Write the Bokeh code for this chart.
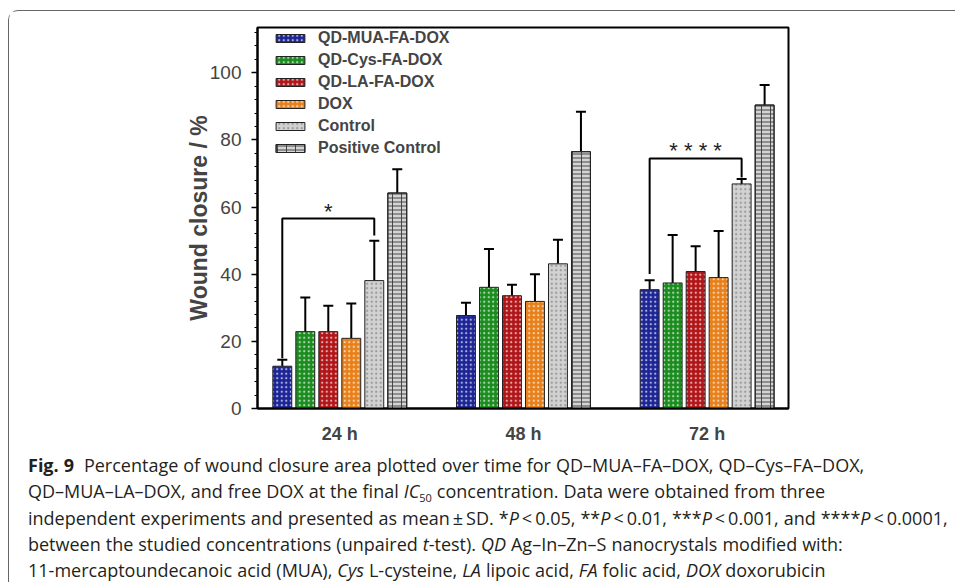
from bokeh.plotting import figure
from bokeh.models import (ColumnDataSource, Legend, LegendItem, FixedTicker, SingleIntervalTicker,
                          Whisker, TeeHead, Div, Range1d)
from bokeh.layouts import column
from bokeh.core.properties import value
from bokeh.embed import file_html
from bokeh.resources import INLINE

# ---------------- data ----------------
groups = ["24 h", "48 h", "72 h"]
series = ["QD-MUA-FA-DOX", "QD-Cys-FA-DOX", "QD-LA-FA-DOX", "DOX", "Control", "Positive Control"]
mua_mean = [12.6, 27.7, 35.4]
cys_mean = [22.9, 36.1, 37.4]
la_mean = [22.9, 33.6, 40.8]
dox_mean = [20.9, 31.9, 39.0]
ctrl_mean = [38.1, 43.1, 66.9]
pos_mean = [64.2, 76.5, 90.4]
mua_sd = [1.9, 3.8, 2.8]
cys_sd = [10.2, 11.4, 14.3]
la_sd = [7.7, 3.3, 7.5]
dox_sd = [10.4, 8.1, 13.9]
ctrl_sd = [11.9, 7.2, 1.5]
pos_sd = [7.1, 11.9, 6.0]
# significance brackets
sig_group = [0, 2]
sig_left_low = [15.0, 40.1]
sig_top = [56.6, 74.5]
sig_right_low = [51.5, 68.8]
sig_label = ["*", "* * * *"]

means = [mua_mean, cys_mean, la_mean, dox_mean, ctrl_mean, pos_mean]
sds = [mua_sd, cys_sd, la_sd, dox_sd, ctrl_sd, pos_sd]

# ---------------- styles ----------------
colors = ["#1c2496", "#1a8c1e", "#b01518", "#e8801a", "#d2d2d2", "#d4d4d4"]
hatch_cols = ["#ffffff", "#ffffff", "#ffffff", "#ffffff", "#7a7a7a", "#3a3a3a"]
FONT = "Liberation Sans"
pitch = 0.1252
bar_w = 0.103

p = figure(width=937, height=436, output_backend="svg", toolbar_location=None,
           x_range=Range1d(0.552, 3.443), y_range=Range1d(0, 113.5),
           min_border_left=248, min_border_right=158, min_border_top=16, min_border_bottom=39)
p.background_fill_color = "white"
p.border_fill_color = "white"
p.outline_line_color = "black"
p.outline_line_width = 2
p.xgrid.visible = False
p.ygrid.visible = False

legend_items = []
for i, name in enumerate(series):
    xs = [g + 1 + (i - 2.5) * pitch for g in range(len(groups))]
    tops = means[i]
    ups = [m + s for m, s in zip(means[i], sds[i])]
    src = ColumnDataSource(dict(x=xs, top=tops, up=ups))
    if i == 5:
        # brick-like texture: horizontal courses plus vertical joints
        r = p.vbar(x="x", top="top", width=bar_w, source=src, fill_color=colors[i],
                   line_color="#222222", line_width=1,
                   hatch_pattern="horizontal_line", hatch_color=hatch_cols[i],
                   hatch_scale=4, hatch_weight=1, hatch_alpha=0.9)
        r2 = p.vbar(x="x", top="top", width=bar_w, source=src, fill_alpha=0,
                    line_color="#222222", line_width=1,
                    hatch_pattern="vertical_line", hatch_color=hatch_cols[i],
                    hatch_scale=9, hatch_weight=1, hatch_alpha=0.9)
        rends = [r, r2]
    else:
        r = p.vbar(x="x", top="top", width=bar_w, source=src, fill_color=colors[i],
                   line_color="#222222", line_width=1,
                   hatch_pattern="dot", hatch_color=hatch_cols[i], hatch_scale=4.5,
                   hatch_alpha=0.65, hatch_weight=1)
        rends = [r]
    w = Whisker(base="x", lower="top", upper="up", source=src, dimension="height",
                line_color="black", line_width=2, lower_head=None,
                upper_head=TeeHead(size=10, line_color="black", line_width=2))
    p.add_layout(w)
    legend_items.append(LegendItem(label=name, renderers=rends))

# significance brackets
for k in range(len(sig_group)):
    g = sig_group[k] + 1
    xl = g + (0 - 2.5) * pitch
    xr = g + (4 - 2.5) * pitch
    p.line(x=[xl, xl, xr, xr], y=[sig_left_low[k], sig_top[k], sig_top[k], sig_right_low[k]],
           line_color="black", line_width=2)
    p.text(x=[(xl + xr) / 2], y=[sig_top[k] - 1.5], text=[sig_label[k]],
           text_font=value(FONT), text_font_size="22px", text_align="center",
           text_baseline="bottom", text_color="#222222")

legend = Legend(items=legend_items, location=(10, 245), padding=5, margin=0,
                spacing=2, label_height=20, glyph_height=10, glyph_width=36,
                label_standoff=10, label_text_font=FONT, label_text_font_size="16px",
                label_text_font_style="bold", background_fill_alpha=0, border_line_alpha=0)
p.add_layout(legend)

# axes
p.xaxis.ticker = FixedTicker(ticks=[1, 2, 3])
p.xaxis.major_label_overrides = {1: groups[0], 2: groups[1], 3: groups[2]}
p.xaxis.major_tick_line_color = None
p.xaxis.major_tick_out = 0
p.xaxis.major_tick_in = 0
p.xaxis.minor_tick_line_color = None
p.xaxis.major_label_text_font = FONT
p.xaxis.major_label_text_font_size = "18px"
p.xaxis.major_label_text_font_style = "bold"
p.xaxis.major_label_standoff = 15
p.xaxis.axis_line_width = 2
p.xaxis.axis_line_color = "black"

p.yaxis.ticker = SingleIntervalTicker(interval=20, num_minor_ticks=5)
p.yaxis.major_tick_out = 6
p.yaxis.major_tick_in = 0
p.yaxis.minor_tick_out = 3
p.yaxis.minor_tick_in = 0
p.yaxis.major_tick_line_width = 1.5
p.yaxis.major_tick_line_color = "black"
p.yaxis.minor_tick_line_color = "black"
p.yaxis.axis_line_width = 2
p.yaxis.axis_line_color = "black"
p.yaxis.major_label_text_font = FONT
p.yaxis.major_label_text_font_size = "19px"
p.yaxis.major_label_standoff = 10
p.yaxis.axis_label = "Wound closure / %"
p.yaxis.axis_label_text_font = FONT
p.yaxis.axis_label_text_font_size = "23px"
p.yaxis.axis_label_text_font_style = "bold"
p.yaxis.axis_label_standoff = -5

sub = "<span style='font-size:11px;position:relative;top:4px;line-height:0'>50</span>"
ts = "&#8201;"
caption_html = (
    "<b>Fig. 9</b>&nbsp; Percentage of wound closure area plotted over time for QD&#8211;MUA&#8211;FA&#8211;DOX, QD&#8211;Cys&#8211;FA&#8211;DOX,<br>"
    "QD&#8211;MUA&#8211;LA&#8211;DOX, and free DOX at the final <i>IC</i>" + sub + " concentration. Data were obtained from three<br>"
    "independent experiments and presented as mean" + ts + "&#177;" + ts + "SD. *<i>P</i>" + ts + "&lt;" + ts + "0.05, **<i>P</i>" + ts
    + "&lt;" + ts + "0.01, ***<i>P</i>" + ts + "&lt;" + ts + "0.001, and ****<i>P</i>" + ts + "&lt;" + ts + "0.0001,<br>"
    "between the studied concentrations (unpaired <i>t</i>-test). <i>QD</i> Ag&#8211;In&#8211;Zn&#8211;S nanocrystals modified with:<br>"
    "11-mercaptoundecanoic acid (MUA), <i>Cys</i> L-cysteine, <i>LA</i> lipoic acid, <i>FA</i> folic acid, <i>DOX</i> doxorubicin"
)
caption = Div(text=caption_html, width=937, height=131,
              styles={"font-family": "'Open Sans', sans-serif", "font-size": "18px",
                      "line-height": "26.25px", "color": "#231f20", "white-space": "nowrap",
                      "padding-left": "14px", "overflow": "visible", "word-spacing": "0.3px"})

layout = column(p, caption, styles={"margin-left": "8px", "margin-top": "10px",
                                    "border-top": "1.5px solid #666666",
                                    "border-left": "1.5px solid #666666",
                                    "border-top-left-radius": "10px"})

open("out.html", "w").write(file_html(layout, INLINE))
